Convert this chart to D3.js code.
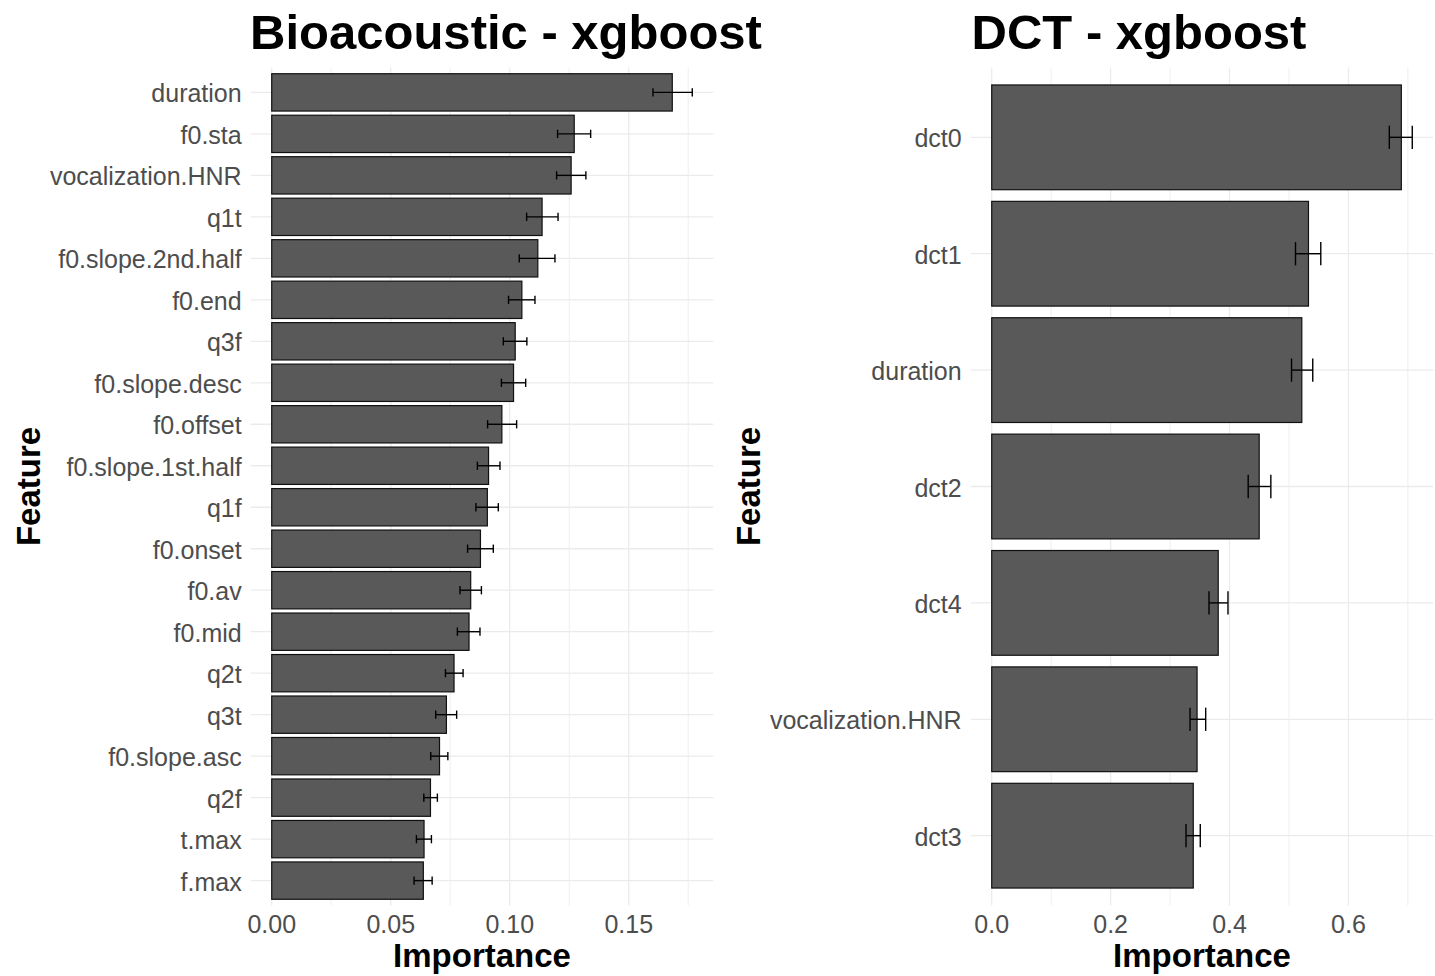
<!DOCTYPE html>
<html>
<head>
<meta charset="utf-8">
<script src="https://cdn.jsdelivr.net/npm/d3@7"></script>
<style>
  html, body { margin: 0; padding: 0; background: #fff; }
  svg { display: block; font-family: "Liberation Sans", Arial, sans-serif; }
</style>
</head>
<body>
<svg id="chart" width="1435" height="976"></svg>
<script>
// --- data: Bioacoustic - xgboost (top to bottom) ---
const bioFeatures = ["duration", "f0.sta", "vocalization.HNR", "q1t", "f0.slope.2nd.half", "f0.end", "q3f",
  "f0.slope.desc", "f0.offset", "f0.slope.1st.half", "q1f", "f0.onset", "f0.av", "f0.mid", "q2t", "q3t",
  "f0.slope.asc", "q2f", "t.max", "f.max"];
const bioImportance = [0.1683, 0.1271, 0.1258, 0.1136, 0.1118, 0.1051, 0.1023, 0.1016, 0.0967, 0.0911,
  0.0906, 0.0877, 0.0836, 0.0829, 0.0766, 0.0734, 0.0705, 0.0667, 0.0640, 0.0637];
const bioLower = [0.1602, 0.1201, 0.1197, 0.1071, 0.1040, 0.0995, 0.0973, 0.0965, 0.0907, 0.0864,
  0.0858, 0.0823, 0.0791, 0.0780, 0.0730, 0.0689, 0.0668, 0.0639, 0.0608, 0.0598];
const bioUpper = [0.1767, 0.1340, 0.1320, 0.1203, 0.1190, 0.1106, 0.1072, 0.1067, 0.1029, 0.0959,
  0.0952, 0.0931, 0.0881, 0.0875, 0.0804, 0.0777, 0.0740, 0.0696, 0.0671, 0.0674];
const bioMajorTicks = [0, 0.05, 0.10, 0.15];
const bioMinorTicks = [0.025, 0.075, 0.125, 0.175];
const bioTickLabels = ["0.00", "0.05", "0.10", "0.15"];

// --- data: DCT - xgboost ---
const dctFeatures = ["dct0", "dct1", "duration", "dct2", "dct4", "vocalization.HNR", "dct3"];
const dctImportance = [0.689, 0.5328, 0.5216, 0.4499, 0.381, 0.3454, 0.339];
const dctLower = [0.6688, 0.511, 0.5043, 0.4314, 0.3655, 0.3336, 0.3268];
const dctUpper = [0.7074, 0.5535, 0.540, 0.4695, 0.3974, 0.3599, 0.3508];
const dctMajorTicks = [0, 0.2, 0.4, 0.6];
const dctMinorTicks = [0.1, 0.3, 0.5, 0.7];
const dctTickLabels = ["0.0", "0.2", "0.4", "0.6"];

const svg = d3.select("#chart");
const panelTop = 67.5, panelBottom = 905.5;
const gridColor = "#ebebeb";

function drawPanel(cfg) {
  const rows = cfg.features.map((f, i) => ({
    name: f, value: cfg.importance[i], lo: cfg.lower[i], hi: cfg.upper[i]
  }));

  // ggplot 风格的扩展：连续轴两侧各 5%
  const xmax = d3.max(rows, d => d.hi);
  const x = d3.scaleLinear()
    .domain([-0.05 * xmax, 1.05 * xmax])
    .range([cfg.left, cfg.right]);

  // 离散轴：两端各 0.6 个单位，条宽 0.9
  const y = d3.scaleBand()
    .domain(cfg.features)
    .range([panelTop, panelBottom])
    .paddingInner(0.1)
    .paddingOuter(0.15);

  const g = svg.append("g");

  // minor vertical grid
  g.selectAll(".minor").data(cfg.minor).enter().append("line")
    .attr("x1", d => x(d)).attr("x2", d => x(d))
    .attr("y1", panelTop).attr("y2", panelBottom)
    .attr("stroke", gridColor).attr("stroke-width", 0.8);

  // major vertical grid
  g.selectAll(".major").data(cfg.major).enter().append("line")
    .attr("x1", d => x(d)).attr("x2", d => x(d))
    .attr("y1", panelTop).attr("y2", panelBottom)
    .attr("stroke", gridColor).attr("stroke-width", 1.3);

  // horizontal grid
  g.selectAll(".hgrid").data(rows).enter().append("line")
    .attr("x1", cfg.left).attr("x2", cfg.right)
    .attr("y1", d => y(d.name) + y.bandwidth() / 2)
    .attr("y2", d => y(d.name) + y.bandwidth() / 2)
    .attr("stroke", gridColor).attr("stroke-width", 1.3);

  // bars
  g.selectAll(".bar").data(rows).enter().append("rect")
    .attr("x", x(0))
    .attr("y", d => y(d.name))
    .attr("width", d => x(d.value) - x(0))
    .attr("height", y.bandwidth())
    .attr("fill", "#595959")
    .attr("stroke", "#111")
    .attr("stroke-width", 1.2);

  // error bars (cap width 0.2 of a row)
  const cap = y.step() * 0.1;
  const eb = g.selectAll(".err").data(rows).enter().append("g")
    .attr("transform", d => `translate(0,${y(d.name) + y.bandwidth() / 2})`)
    .attr("stroke", "#000").attr("stroke-width", 1.4);
  eb.append("line").attr("x1", d => x(d.lo)).attr("x2", d => x(d.hi)).attr("y1", 0).attr("y2", 0);
  eb.append("line").attr("x1", d => x(d.lo)).attr("x2", d => x(d.lo)).attr("y1", -cap).attr("y2", cap);
  eb.append("line").attr("x1", d => x(d.hi)).attr("x2", d => x(d.hi)).attr("y1", -cap).attr("y2", cap);

  // y tick labels
  g.selectAll(".ylab").data(rows).enter().append("text")
    .attr("x", cfg.left - 9)
    .attr("y", d => y(d.name) + y.bandwidth() / 2)
    .attr("dy", "0.4em")
    .attr("text-anchor", "end")
    .attr("font-size", 25)
    .attr("fill", "#4d4d4d")
    .text(d => d.name);

  // x tick labels
  g.selectAll(".xlab").data(cfg.major).enter().append("text")
    .attr("x", d => x(d))
    .attr("y", 933)
    .attr("text-anchor", "middle")
    .attr("font-size", 25)
    .attr("fill", "#4d4d4d")
    .text((d, i) => cfg.tickLabels[i]);

  // axis titles
  g.append("text")
    .attr("x", (cfg.left + cfg.right) / 2)
    .attr("y", 967)
    .attr("text-anchor", "middle")
    .attr("font-size", 33)
    .attr("font-weight", "bold")
    .attr("fill", "#000")
    .text("Importance");

  g.append("text")
    .attr("transform", `translate(${cfg.featureX},${(panelTop + panelBottom) / 2}) rotate(-90)`)
    .attr("text-anchor", "middle")
    .attr("font-size", 33)
    .attr("font-weight", "bold")
    .attr("fill", "#000")
    .text("Feature");

  // title
  g.append("text")
    .attr("x", cfg.titleX)
    .attr("y", 49)
    .attr("text-anchor", "middle")
    .attr("font-size", 49)
    .attr("font-weight", "bold")
    .attr("fill", "#000")
    .text(cfg.title);
}

drawPanel({
  title: "Bioacoustic - xgboost", titleX: 506,
  features: bioFeatures, importance: bioImportance, lower: bioLower, upper: bioUpper,
  major: bioMajorTicks, minor: bioMinorTicks, tickLabels: bioTickLabels,
  left: 250.7, right: 713.3, featureX: 40
});

drawPanel({
  title: "DCT - xgboost", titleX: 1139,
  features: dctFeatures, importance: dctImportance, lower: dctLower, upper: dctUpper,
  major: dctMajorTicks, minor: dctMinorTicks, tickLabels: dctTickLabels,
  left: 970.7, right: 1433.3, featureX: 760
});
</script>
</body>
</html>
